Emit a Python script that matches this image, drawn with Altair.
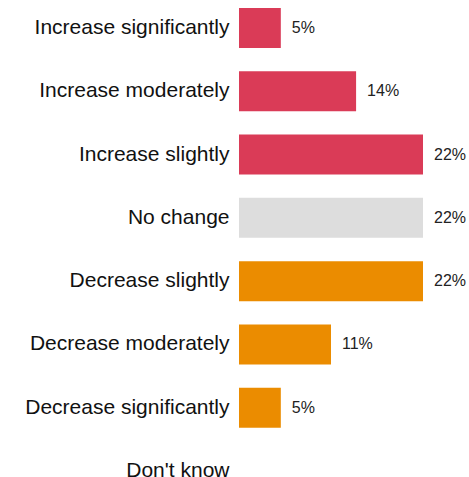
import altair as alt
import pandas as pd

categories = ["Increase significantly", "Increase moderately", "Increase slightly",
              "No change", "Decrease slightly", "Decrease moderately",
              "Decrease significantly", "Don't know"]
values = [5, 14, 22, 22, 22, 11, 5, 0]
groups = ["up", "up", "up", "none", "down", "down", "down", "none"]
labels = ["5%", "14%", "22%", "22%", "22%", "11%", "5%", ""]

df = pd.DataFrame({"cat": categories, "val": values, "grp": groups, "lbl": labels})

y = alt.Y("cat:N", sort=categories, title=None,
          scale=alt.Scale(range=[0, 499], paddingInner=0.368, paddingOuter=0.126),
          axis=alt.Axis(domain=False, ticks=False, labelPadding=10, labelFontSize=21,
                        labelFont="Liberation Sans", labelColor="#111111", labelLimit=300))
x = alt.X("val:Q", title=None, scale=alt.Scale(domain=[0, 22], nice=False),
          axis=None)

bars = alt.Chart(df).mark_bar().encode(
    x=x, y=y,
    color=alt.Color("grp:N", legend=None,
                    scale=alt.Scale(domain=["up", "none", "down"],
                                    range=["#DA3B57", "#DDDDDD", "#EB8C00"]))
)

text = alt.Chart(df).transform_filter("datum.val > 0").mark_text(
    align="left", baseline="middle", dx=11, fontSize=16,
    font="Liberation Sans", color="#222222"
).encode(x=x, y=y, text="lbl:N")

chart = (bars + text).properties(
    width=184, height=477,
    autosize=alt.AutoSizeParams(type="none"),
    padding={"left": 239, "top": 0, "right": 46, "bottom": 0}
).configure_view(stroke=None)

chart.save("out.html", embed_options={"renderer": "svg", "actions": False})
